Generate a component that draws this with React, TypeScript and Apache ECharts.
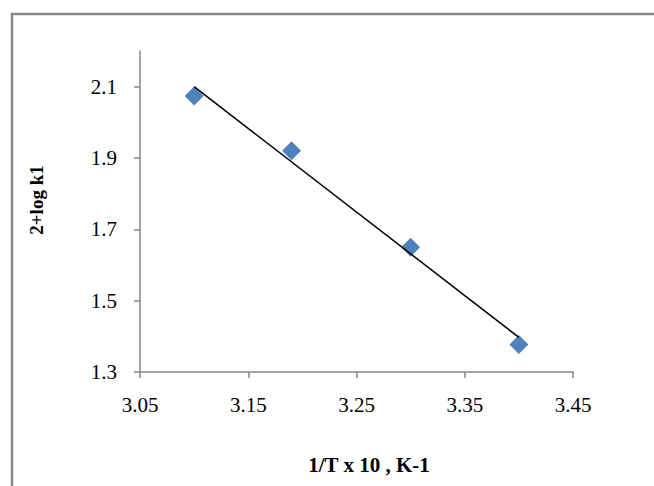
import React, { useEffect, useRef } from "react";
import * as echarts from "echarts";

const xValues = [3.1, 3.19, 3.3, 3.4];
const yValues = [2.074, 1.92, 1.65, 1.377];
const trendX = [3.1, 3.4];
const trendY = [2.1, 1.397];
const xTicks = [3.05, 3.15, 3.25, 3.35, 3.45];
const yTicks = [1.3, 1.5, 1.7, 1.9, 2.1];
const xTitle = "1/T x 10 , K-1";
const yTitle = "2+log k1";

export default function App() {
  const ref = useRef<HTMLDivElement>(null);
  useEffect(() => {
    if (!ref.current) return;
    const chart = echarts.init(ref.current, null, { renderer: "svg" });
    const serif = "'Liberation Serif', 'Times New Roman', serif";
    const axisColor = "#868686";
    chart.setOption({
      animation: false,
      backgroundColor: "#fff",
      grid: { left: 140, right: 81, top: 51, bottom: 114 },
      xAxis: {
        type: "value",
        min: 3.05,
        max: 3.45,
        splitLine: { show: false },
        axisLine: { lineStyle: { color: axisColor, width: 1.5 } },
        axisTick: { show: true, length: 6, lineStyle: { color: axisColor, width: 1.5 }, customValues: xTicks },
        axisLabel: {
          customValues: xTicks,
          margin: 22,
          fontFamily: serif,
          fontSize: 21,
          color: "#000",
          formatter: (v: number) => v.toFixed(2),
        },
      },
      yAxis: {
        type: "value",
        min: 1.3,
        max: 2.2,
        splitLine: { show: false },
        axisLine: { show: true, lineStyle: { color: axisColor, width: 1.5 } },
        axisTick: { show: true, length: 6, lineStyle: { color: axisColor, width: 1.5 }, customValues: yTicks },
        axisLabel: {
          customValues: yTicks,
          margin: 23,
          fontFamily: serif,
          fontSize: 21,
          color: "#000",
          formatter: (v: number) => v.toFixed(1),
        },
      },
      graphic: [
        {
          type: "rect",
          z: -1,
          shape: { x: 12, y: 14, width: 700, height: 520 },
          style: { fill: "none", stroke: "#8a8a8a", lineWidth: 2.5 },
        },
        {
          type: "text",
          x: 36.5,
          y: 200,
          rotation: Math.PI / 2,
          style: {
            text: yTitle,
            font: "bold 19px " + serif,
            fill: "#000",
            align: "center",
            verticalAlign: "middle",
            textAlign: "center",
            textVerticalAlign: "middle",
          },
        },
        {
          type: "text",
          x: 369,
          y: 465,
          style: {
            text: xTitle,
            font: "bold 21px " + serif,
            fill: "#000",
            align: "center",
            verticalAlign: "middle",
            textAlign: "center",
            textVerticalAlign: "middle",
          },
        },
      ],
      series: [
        {
          type: "scatter",
          data: xValues.map((x, i) => [x, yValues[i]]),
          symbol: "diamond",
          symbolSize: 19,
          itemStyle: { color: "#4F81BD", opacity: 1 },
          z: 2,
        },
        {
          type: "line",
          data: trendX.map((x, i) => [x, trendY[i]]),
          showSymbol: false,
          symbol: "none",
          lineStyle: { color: "#000", width: 1.5 },
          z: 3,
        },
      ],
    });
    return () => chart.dispose();
  }, []);
  return (
    <div
      ref={ref}
      style={{ position: "fixed", left: 0, top: 0, width: 654, height: 486, background: "#fff" }}
    />
  );
}
